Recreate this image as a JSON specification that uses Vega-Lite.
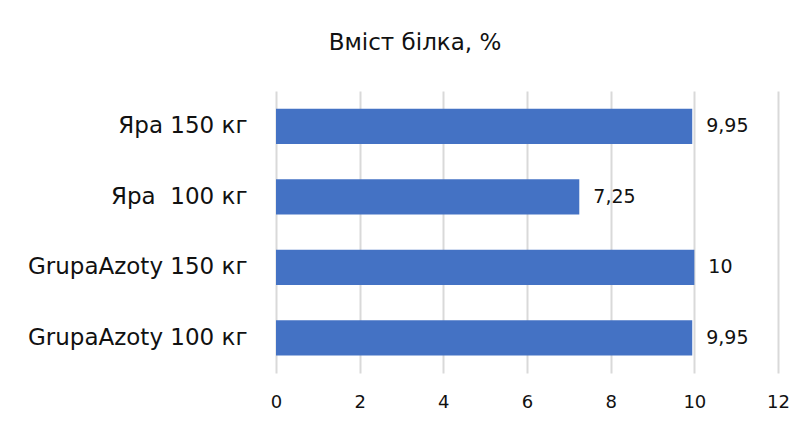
{
  "$schema": "https://vega.github.io/schema/vega-lite/v6.json",
  "width": 502,
  "height": 282,
  "autosize": {"type": "none"},
  "padding": {"left": 276, "top": 91, "right": 34, "bottom": 52},
  "background": "white",
  "config": {
    "view": {"stroke": null},
    "locale": {"number": {"decimal": ",", "thousands": " ", "grouping": [3], "currency": ["", ""]}},
    "font": "DejaVu Sans"
  },
  "title": {
    "text": "Вміст білка, %",
    "frame": "group",
    "anchor": "middle",
    "dx": -112,
    "offset": 36,
    "font": "DejaVu Sans",
    "fontSize": 23,
    "fontWeight": "normal",
    "color": "#111111"
  },
  "data": {
    "values": [
      {"variant": "Яра 150 кг", "protein": 9.95},
      {"variant": "Яра \u00a0100 кг", "protein": 7.25},
      {"variant": "GrupaAzoty 150 кг", "protein": 10},
      {"variant": "GrupaAzoty 100 кг", "protein": 9.95}
    ]
  },
  "encoding": {
    "y": {
      "field": "variant",
      "type": "nominal",
      "sort": null,
      "scale": {"paddingInner": 0.5, "paddingOuter": 0.25},
      "axis": {
        "title": null,
        "domain": false,
        "ticks": false,
        "grid": false,
        "labelPadding": 29,
        "labelFont": "DejaVu Sans",
        "labelFontSize": 23,
        "labelColor": "#111111",
        "labelLimit": 400
      }
    },
    "x": {
      "field": "protein",
      "type": "quantitative",
      "scale": {"domain": [0, 12], "nice": false},
      "axis": {
        "title": null,
        "values": [0, 2, 4, 6, 8, 10, 12],
        "domain": false,
        "ticks": false,
        "grid": true,
        "gridColor": "#d9d9d9",
        "gridWidth": 2,
        "labelFlush": false,
        "labelPadding": 20,
        "labelFont": "DejaVu Sans",
        "labelFontSize": 18,
        "labelColor": "#111111",
        "format": "~g"
      }
    }
  },
  "layer": [
    {"mark": {"type": "bar", "color": "#4472C4"}},
    {
      "mark": {"type": "text", "align": "left", "baseline": "middle", "dx": 14, "fontSize": 19, "font": "DejaVu Sans", "color": "#111111"},
      "encoding": {"text": {"field": "protein", "type": "quantitative", "format": "~g"}}
    }
  ]
}
